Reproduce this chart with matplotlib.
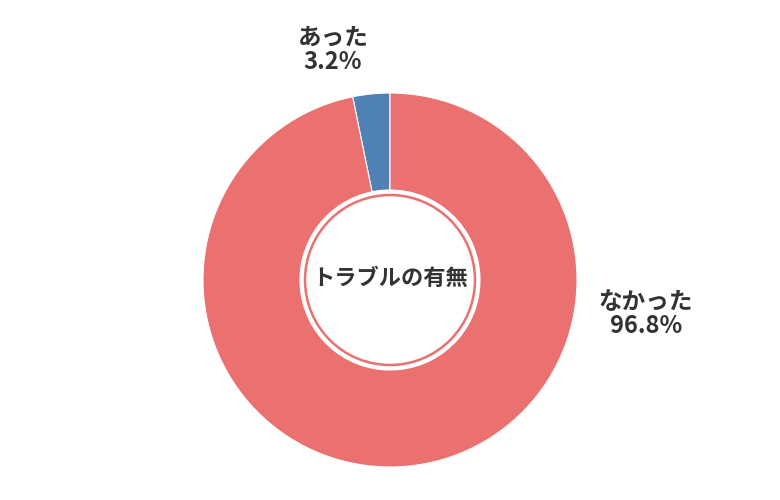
import matplotlib.pyplot as plt
from matplotlib.patches import Circle

plt.rcParams['font.family'] = ['Noto Sans CJK JP', 'DejaVu Sans']

labels = ['あった', 'なかった']
values = [3.2, 96.8]
colors = ['#4f81b4', '#eb7070']
title = 'トラブルの有無'

fig = plt.figure(figsize=(7.8, 5), dpi=100)
ax = fig.add_axes([0, 0, 1, 1])

cx, cy, r = 390, 220, 187
ax.pie(values, colors=colors, startangle=90, counterclock=True,
       center=(cx, cy), radius=r, frame=True,
       wedgeprops=dict(width=r - 90, edgecolor='white', linewidth=0.8))
ax.set_xlim(0, 780)
ax.set_ylim(0, 500)
ax.set_aspect('equal')
ax.axis('off')
ax.add_patch(Circle((cx, cy), 85, facecolor='white', edgecolor='#eb7070', linewidth=1.8, zorder=3))

ax.text(cx, cy + 2, title, ha='center', va='center', fontsize=16, fontweight='bold', color='#333333', zorder=4)
ax.text(333, 450, f'{labels[0]}\n{values[0]}%', ha='center', va='center', fontsize=17,
        fontweight='bold', color='#333333', linespacing=1.05)
ax.text(646, 186, f'{labels[1]}\n{values[1]}%', ha='center', va='center', fontsize=17,
        fontweight='bold', color='#333333', linespacing=1.05)

fig.savefig('out.png', dpi=100)
